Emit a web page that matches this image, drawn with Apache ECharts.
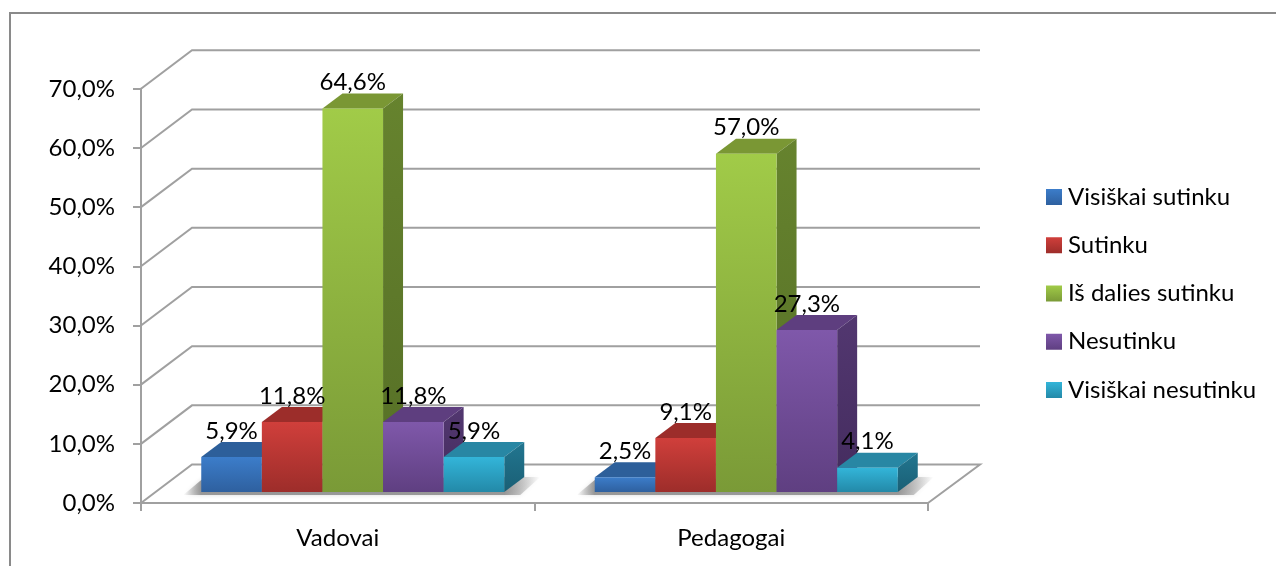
<!DOCTYPE html>
<html>
<head>
<meta charset="utf-8">
<style>
  html, body { margin: 0; padding: 0; background: #fff; }
  #chart { width: 1276px; height: 566px; }
</style>
<script src="https://cdn.jsdelivr.net/npm/echarts@6/dist/echarts.min.js"></script>
</head>
<body>
<div id="chart"></div>
<script>
const categories = ['Vadovai', 'Pedagogai'];
const seriesNames = ['Visiškai sutinku', 'Sutinku', 'Iš dalies sutinku', 'Nesutinku', 'Visiškai nesutinku'];
const visiskaiSutinku = [5.9, 2.5];
const sutinku = [11.8, 9.1];
const isDaliesSutinku = [64.6, 57.0];
const nesutinku = [11.8, 27.3];
const visiskaiNesutinku = [5.9, 4.1];
const seriesValues = [visiskaiSutinku, sutinku, isDaliesSutinku, nesutinku, visiskaiNesutinku];
const yTicks = [0, 10, 20, 30, 40, 50, 60, 70];

// face colours per series: front top, front bottom, top face, side top, side bottom
const palette = [
  ['#3c7dca', '#2e609f', '#2d5f9a', '#28548a', '#1f4470'],
  ['#d03f3b', '#9d2d2a', '#9c2d2a', '#8a2825', '#6f1f1d'],
  ['#a1cb48', '#7a9a37', '#7a9734', '#66832e', '#566f26'],
  ['#7f58aa', '#5f3f81', '#5e3e7f', '#523770', '#442c5e'],
  ['#33b5d9', '#2389a8', '#2887a4', '#227690', '#1a5f75']
];

const WALL_DX = 51, WALL_DY = -38.5;   // depth of the chart box
const BAR_DX = 15, BAR_DY = -11;       // front plane of the bars inside the box
const DEPTH_DX = 20, DEPTH_DY = -15;   // depth of one bar
const BAR_W = 60.6;
const LINE_GREY = '#a0a0a0';
const FONT_FAMILY = 'Lato, Carlito, "Open Sans", sans-serif';
const FONT = '24px ' + FONT_FAMILY;

function vGrad(c1, c2) {
  return new echarts.graphic.LinearGradient(0, 0, 0, 1, [
    { offset: 0, color: c1 },
    { offset: 1, color: c2 }
  ]);
}

function renderWall(params, api) {
  const value = api.value(0);
  const y = api.coord([0, value])[1];
  const rect = params.coordSys;
  const pts = [
    [rect.x, y],
    [rect.x + WALL_DX, y + WALL_DY],
    [rect.x + rect.width + WALL_DX + 1, y + WALL_DY]
  ];
  if (value === 0) pts.push([rect.x + rect.width, y]);
  return {
    type: 'polyline',
    shape: { points: pts },
    style: { stroke: LINE_GREY, lineWidth: 2, fill: null }
  };
}

function renderBar(seriesIndex) {
  return function (params, api) {
    const cat = api.value(0);
    const val = api.value(1);
    const w = BAR_W;
    const zero = api.coord([cat, 0]);
    const x = zero[0] - 2.5 * w + seriesIndex * w + BAR_DX;
    const x0 = x - seriesIndex * w;
    const base = zero[1] + BAR_DY;
    const top = api.coord([cat, val])[1] * 1.003 - zero[1] * 0.003 + BAR_DY;
    const c = palette[seriesIndex];
    const children = [];

    // floor shadow of the whole group, drawn under the first bar
    if (seriesIndex === 0) {
      children.push({
        type: 'polygon',
        shape: {
          points: [
            [x0 - 18, base + 3], [x0, base - 12], [x0 + 5 * w + 20, base - 15],
            [x0 + 5 * w + 36, base - 15], [x0 + 5 * w + 16, base + 3]
          ]
        },
        style: {
          fill: new echarts.graphic.LinearGradient(0, 0, 1, 0, [
            { offset: 0, color: 'rgba(120,120,120,0)' },
            { offset: 0.05, color: 'rgba(120,120,120,0.7)' },
            { offset: 0.9, color: 'rgba(120,120,120,0.7)' },
            { offset: 1, color: 'rgba(120,120,120,0)' }
          ]),
          shadowBlur: 4,
          shadowColor: 'rgba(150,150,150,0.5)'
        }
      });
    }
    children.push({
      type: 'polygon',
      shape: { points: [[x, top], [x + DEPTH_DX, top + DEPTH_DY], [x + w + DEPTH_DX, top + DEPTH_DY], [x + w, top]] },
      style: { fill: c[2] }
    });
    children.push({
      type: 'polygon',
      shape: { points: [[x + w, top], [x + w + DEPTH_DX, top + DEPTH_DY], [x + w + DEPTH_DX, base + DEPTH_DY], [x + w, base]] },
      style: { fill: vGrad(c[3], c[4]) }
    });
    children.push({
      type: 'rect',
      shape: { x: x, y: top, width: w, height: base - top },
      style: { fill: vGrad(c[0], c[1]) }
    });
    children.push({
      type: 'text',
      z2: 100,
      style: {
        x: x + w / 2,
        y: top - 26,
        text: val.toFixed(1).replace('.', ',') + '%',
        font: FONT,
        fill: '#000',
        align: 'center',
        verticalAlign: 'middle'
      }
    });
    return { type: 'group', children: children };
  };
}

const chart = echarts.init(document.getElementById('chart'));

const series = [{
  type: 'custom',
  name: 'walls',
  silent: true,
  clip: false,
  renderItem: renderWall,
  data: yTicks.map(v => [v]),
  encode: { y: 0 },
  z: 1
}];
seriesNames.forEach((name, i) => {
  series.push({
    type: 'custom',
    name: name,
    clip: false,
    renderItem: renderBar(i),
    itemStyle: { color: palette[i][0] },
    data: seriesValues[i].map((v, k) => [k, v]),
    encode: { x: 0, y: 1 },
    z: 3
  });
});

chart.setOption({
  animation: false,
  backgroundColor: '#fff',
  graphic: [{
    type: 'rect',
    shape: { x: 10, y: 13, width: 1300, height: 600 },
    style: { fill: 'none', stroke: '#8a8a8a', lineWidth: 2 },
    silent: true,
    z: 0
  }],
  grid: { left: 141, right: 348, top: 88.8, bottom: 63 },
  legend: {
    orient: 'vertical',
    left: 1041,
    top: 180,
    itemWidth: 16,
    itemHeight: 16,
    itemGap: 24.25,
    itemStyle: { borderWidth: 0 },
    textStyle: { fontFamily: FONT_FAMILY, fontSize: 24, color: '#000', padding: [0, 0, 0, 1] },
    data: seriesNames.map((name, i) => ({
      name: name,
      icon: 'rect',
      itemStyle: { color: vGrad(palette[i][0], palette[i][1]) }
    }))
  },
  xAxis: {
    type: 'category',
    data: categories,
    axisLine: { lineStyle: { color: LINE_GREY, width: 2 } },
    axisTick: { show: true, length: 8, lineStyle: { color: LINE_GREY, width: 2 } },
    axisLabel: { color: '#000', fontSize: 24, fontFamily: FONT_FAMILY, margin: 23 },
    z: 2
  },
  yAxis: {
    type: 'value',
    min: 0,
    max: 70,
    interval: 10,
    splitLine: { show: false },
    axisLine: { show: true, lineStyle: { color: LINE_GREY, width: 2 } },
    axisTick: { show: true, length: 8, lineStyle: { color: LINE_GREY, width: 2 } },
    axisLabel: {
      color: '#000',
      fontSize: 24,
      fontFamily: FONT_FAMILY,
      margin: 26,
      padding: [2, 0, 0, 0],
      formatter: v => v.toFixed(1).replace('.', ',') + '%'
    }
  },
  series: series
});

window.addEventListener('resize', chart.resize);
</script>
</body>
</html>
